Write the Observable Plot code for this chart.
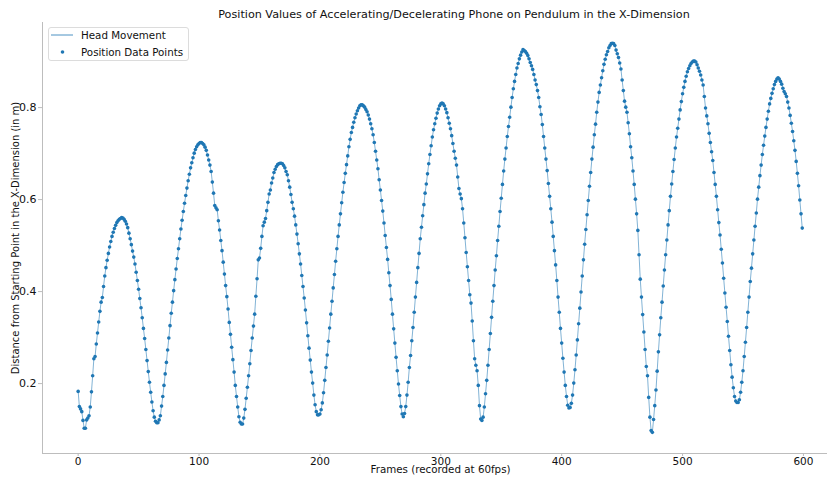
<!DOCTYPE html>
<html><head><meta charset="utf-8">
<script src="https://cdn.jsdelivr.net/npm/d3@7"></script>
<script src="https://cdn.jsdelivr.net/npm/@observablehq/plot@0.6"></script>
<style>
body{margin:0;background:#fff;overflow:hidden}
#wrap{position:relative;width:827px;height:478px;overflow:hidden;font-family:"DejaVu Sans",sans-serif;color:#111}
#chart{position:absolute;left:0;top:0;width:838px}
#chart svg{max-width:none !important}
#title{position:absolute;top:9px;left:454px;transform:translateX(-50%);font-size:11.2px;line-height:12px;white-space:nowrap}
#legend{position:absolute;left:48px;top:27px;width:141px;height:34px;box-sizing:border-box;border:1px solid #dcdcdc;border-radius:3px;background:rgba(255,255,255,0.8);font-size:10.3px}
#legend svg{position:absolute;left:0;top:0}
#legend span{position:absolute;left:32px;line-height:12px;white-space:nowrap}
</style></head>
<body><div id="wrap"><div id="chart"></div><div id="title"></div><div id="legend"></div></div>
<script>
const title = "Position Values of Accelerating/Decelerating Phone on Pendulum in the X-Dimension";
const xLabel = "Frames (recorded at 60fps)";
const yLabel = "Distance from Starting Point in the X-Dimension (in m)";
const seriesNames = ["Head Movement", "Position Data Points"];
const xTicks = [0, 100, 200, 300, 400, 500, 600];
const yTicks = [0.2, 0.4, 0.6, 0.8];
const xDomain = [-29.5, 629];
const yDomain = [0.048, 0.985];
// position per frame (frame = index)
const positions = [
0.183,0.150,0.145,0.139,0.120,0.103,0.103,0.121,0.125,0.130,
0.149,0.182,0.217,0.254,0.259,0.286,0.310,0.334,0.357,0.377,
0.387,0.411,0.434,0.452,0.468,0.483,0.497,0.509,0.520,0.529,
0.537,0.544,0.550,0.554,0.557,0.559,0.561,0.560,
0.557,0.553,0.547,0.539,0.527,0.515,0.502,0.488,0.475,0.460,
0.442,0.424,0.405,0.385,0.365,0.343,0.320,0.298,0.274,0.250,
0.226,0.203,0.181,0.160,0.141,0.127,0.118,0.115,0.115,
0.121,0.130,0.151,0.172,0.196,0.221,0.246,0.273,0.299,0.326,
0.353,0.377,0.402,0.426,0.449,0.472,0.493,0.515,0.536,0.555,
0.574,0.592,0.609,0.625,0.641,0.655,0.669,0.680,0.691,0.701,
0.709,0.715,0.719,0.722,0.724,0.724,0.722,
0.719,0.714,0.707,0.697,0.686,0.675,0.661,0.638,0.614,0.587,
0.582,0.578,0.554,0.534,0.511,0.489,0.464,0.438,0.413,0.389,
0.362,0.333,0.307,0.279,0.252,0.225,0.196,0.172,0.149,0.128,
0.116,0.112,0.112,
0.125,0.144,0.168,0.192,0.217,0.243,0.272,0.299,0.325,0.351,
0.390,0.428,0.469,0.473,0.494,0.520,0.543,0.551,0.559,0.576,
0.594,0.612,0.621,0.636,0.647,0.659,0.666,0.672,0.676,0.678,
0.679,0.679,0.678,
0.674,0.669,0.661,0.654,0.641,0.627,0.611,0.594,0.580,0.564,
0.545,0.525,0.504,0.482,0.460,0.435,0.411,0.386,0.360,0.332,
0.304,0.277,0.251,0.225,0.201,0.175,0.154,0.139,0.132,0.132,
0.134,
0.143,0.158,0.180,0.207,0.235,0.262,0.292,0.321,0.351,0.379,
0.408,0.437,0.466,0.493,0.520,0.545,0.569,0.593,0.616,0.637,
0.657,0.676,0.695,0.715,0.731,0.746,0.757,0.768,0.778,0.786,
0.793,0.799,0.804,0.806,0.806,
0.804,0.801,0.796,0.791,0.784,0.775,0.765,0.754,0.741,0.724,
0.705,0.686,0.667,0.643,0.621,0.598,0.575,0.549,0.522,0.496,
0.470,0.441,0.413,0.383,0.351,0.319,0.288,0.257,0.228,0.199,
0.174,0.150,0.134,0.128,
0.135,0.150,0.175,0.203,0.235,0.261,0.293,0.322,0.355,0.388,
0.420,0.452,0.483,0.515,0.540,0.565,0.589,0.614,0.634,0.656,
0.678,0.698,0.717,0.736,0.752,0.765,0.777,0.788,0.797,0.804,
0.808,0.810,0.808,
0.804,0.797,0.789,0.778,0.766,0.754,0.739,0.722,0.705,0.690,
0.675,0.649,0.624,0.612,0.602,0.580,0.549,0.517,0.485,0.454,
0.424,0.393,0.375,0.336,0.293,0.254,0.240,0.228,0.196,0.152,
0.123,0.120,
0.127,0.149,0.178,0.207,0.240,0.274,0.309,0.344,0.379,0.413,
0.447,0.478,0.511,0.542,0.574,0.603,0.633,0.662,0.688,0.712,
0.737,0.759,0.779,0.801,0.822,0.841,0.857,0.872,0.886,0.896,
0.906,0.914,0.921,0.926,0.924,
0.922,0.918,0.913,0.906,0.898,0.891,0.883,0.872,0.860,0.850,
0.837,0.822,0.802,0.785,0.763,0.737,0.712,0.688,0.663,0.635,
0.607,0.580,0.551,0.520,0.489,0.458,0.424,0.388,0.355,0.320,
0.288,0.255,0.225,0.196,0.172,0.153,0.147,
0.148,0.157,0.175,0.201,0.230,0.262,0.295,0.330,0.364,0.399,
0.434,0.469,0.503,0.535,0.567,0.598,0.629,0.659,0.688,0.714,
0.741,0.764,0.790,0.812,0.833,0.849,0.865,0.880,0.894,0.905,
0.915,0.922,0.930,0.935,0.939,0.940,0.939,
0.935,0.925,0.917,0.909,0.897,0.884,0.860,0.837,0.814,0.801,
0.790,0.767,0.743,0.715,0.691,0.662,0.633,0.601,0.569,0.533,
0.480,0.427,0.388,0.350,0.312,0.274,0.237,0.217,0.170,0.127,
0.098,0.094,
0.122,0.152,0.186,0.227,0.269,0.306,0.343,0.377,0.412,0.447,
0.480,0.512,0.545,0.576,0.607,0.634,0.661,0.687,0.712,0.736,
0.755,0.775,0.795,0.813,0.830,0.844,0.857,0.868,0.878,0.885,
0.891,0.896,0.899,0.901,0.901,0.899,
0.893,0.886,0.879,0.871,0.860,0.849,0.824,0.799,0.782,0.765,
0.744,0.724,0.704,0.685,0.659,0.633,0.607,0.578,0.550,0.523,
0.492,0.462,0.429,0.397,0.366,0.335,0.303,0.272,0.241,0.214,
0.191,0.172,0.162,0.159,0.159,
0.165,0.181,0.203,0.228,0.259,0.290,0.322,0.355,0.388,0.422,
0.451,0.482,0.512,0.542,0.571,0.601,0.627,0.652,0.675,0.698,
0.718,0.738,0.757,0.775,0.792,0.808,0.820,0.831,0.841,0.850,
0.857,0.862,0.865,
0.862,0.857,0.851,0.842,0.835,0.830,0.824,0.812,0.799,0.783,
0.766,0.748,0.728,0.707,0.683,0.657,0.630,0.599,0.569,0.538
];
const data = positions.map((v, i) => ({frame: i, pos: v}));
const blue = "#1f77b4";
const spine = "#bdbdbd";

const chart = Plot.plot({
  width: 838, height: 478,
  marginLeft: 42, marginRight: 0, marginTop: 22, marginBottom: 25,
  style: {fontFamily: "DejaVu Sans", fontSize: "11px", background: "white", color: "#111", maxWidth: "none"},
  x: {domain: xDomain},
  y: {domain: yDomain},
  marks: [
    Plot.ruleX([xDomain[0]], {stroke: spine}),
    Plot.ruleY([yDomain[0]], {stroke: spine}),
    Plot.axisX(xTicks, {tickSize: 3, tickPadding: 1, stroke: spine, fill: "#111", fontSize: 10.5, label: null}),
    Plot.axisY(yTicks, {tickSize: 4, tickPadding: 2, stroke: spine, fill: "#111", fontSize: 11, tickFormat: d => d.toFixed(1), label: null}),
    Plot.line(data, {x: "frame", y: "pos", stroke: blue, strokeWidth: 0.7, strokeOpacity: 0.8}),
    Plot.dot(data, {x: "frame", y: "pos", r: 1.8, fill: blue}),
    Plot.text([xLabel], {text: d => d, frameAnchor: "bottom", dy: 19.5, fontSize: 10.3}),
    Plot.text([yLabel], {text: d => d, frameAnchor: "left", textAnchor: "middle", rotate: -90, dx: -27, fontSize: 10})
  ]
});
chart.style.maxWidth = "none";
document.getElementById("chart").appendChild(chart);
document.getElementById("title").textContent = title;
document.getElementById("legend").innerHTML =
  `<svg width="141" height="34"><line x1="2" x2="24" y1="7" y2="7" stroke="${blue}" stroke-width="0.8"/>` +
  `<circle cx="13.5" cy="24" r="1.8" fill="${blue}"/></svg>` +
  `<span style="top:1px">${seriesNames[0]}</span><span style="top:18px">${seriesNames[1]}</span>`;
</script>
</body></html>
